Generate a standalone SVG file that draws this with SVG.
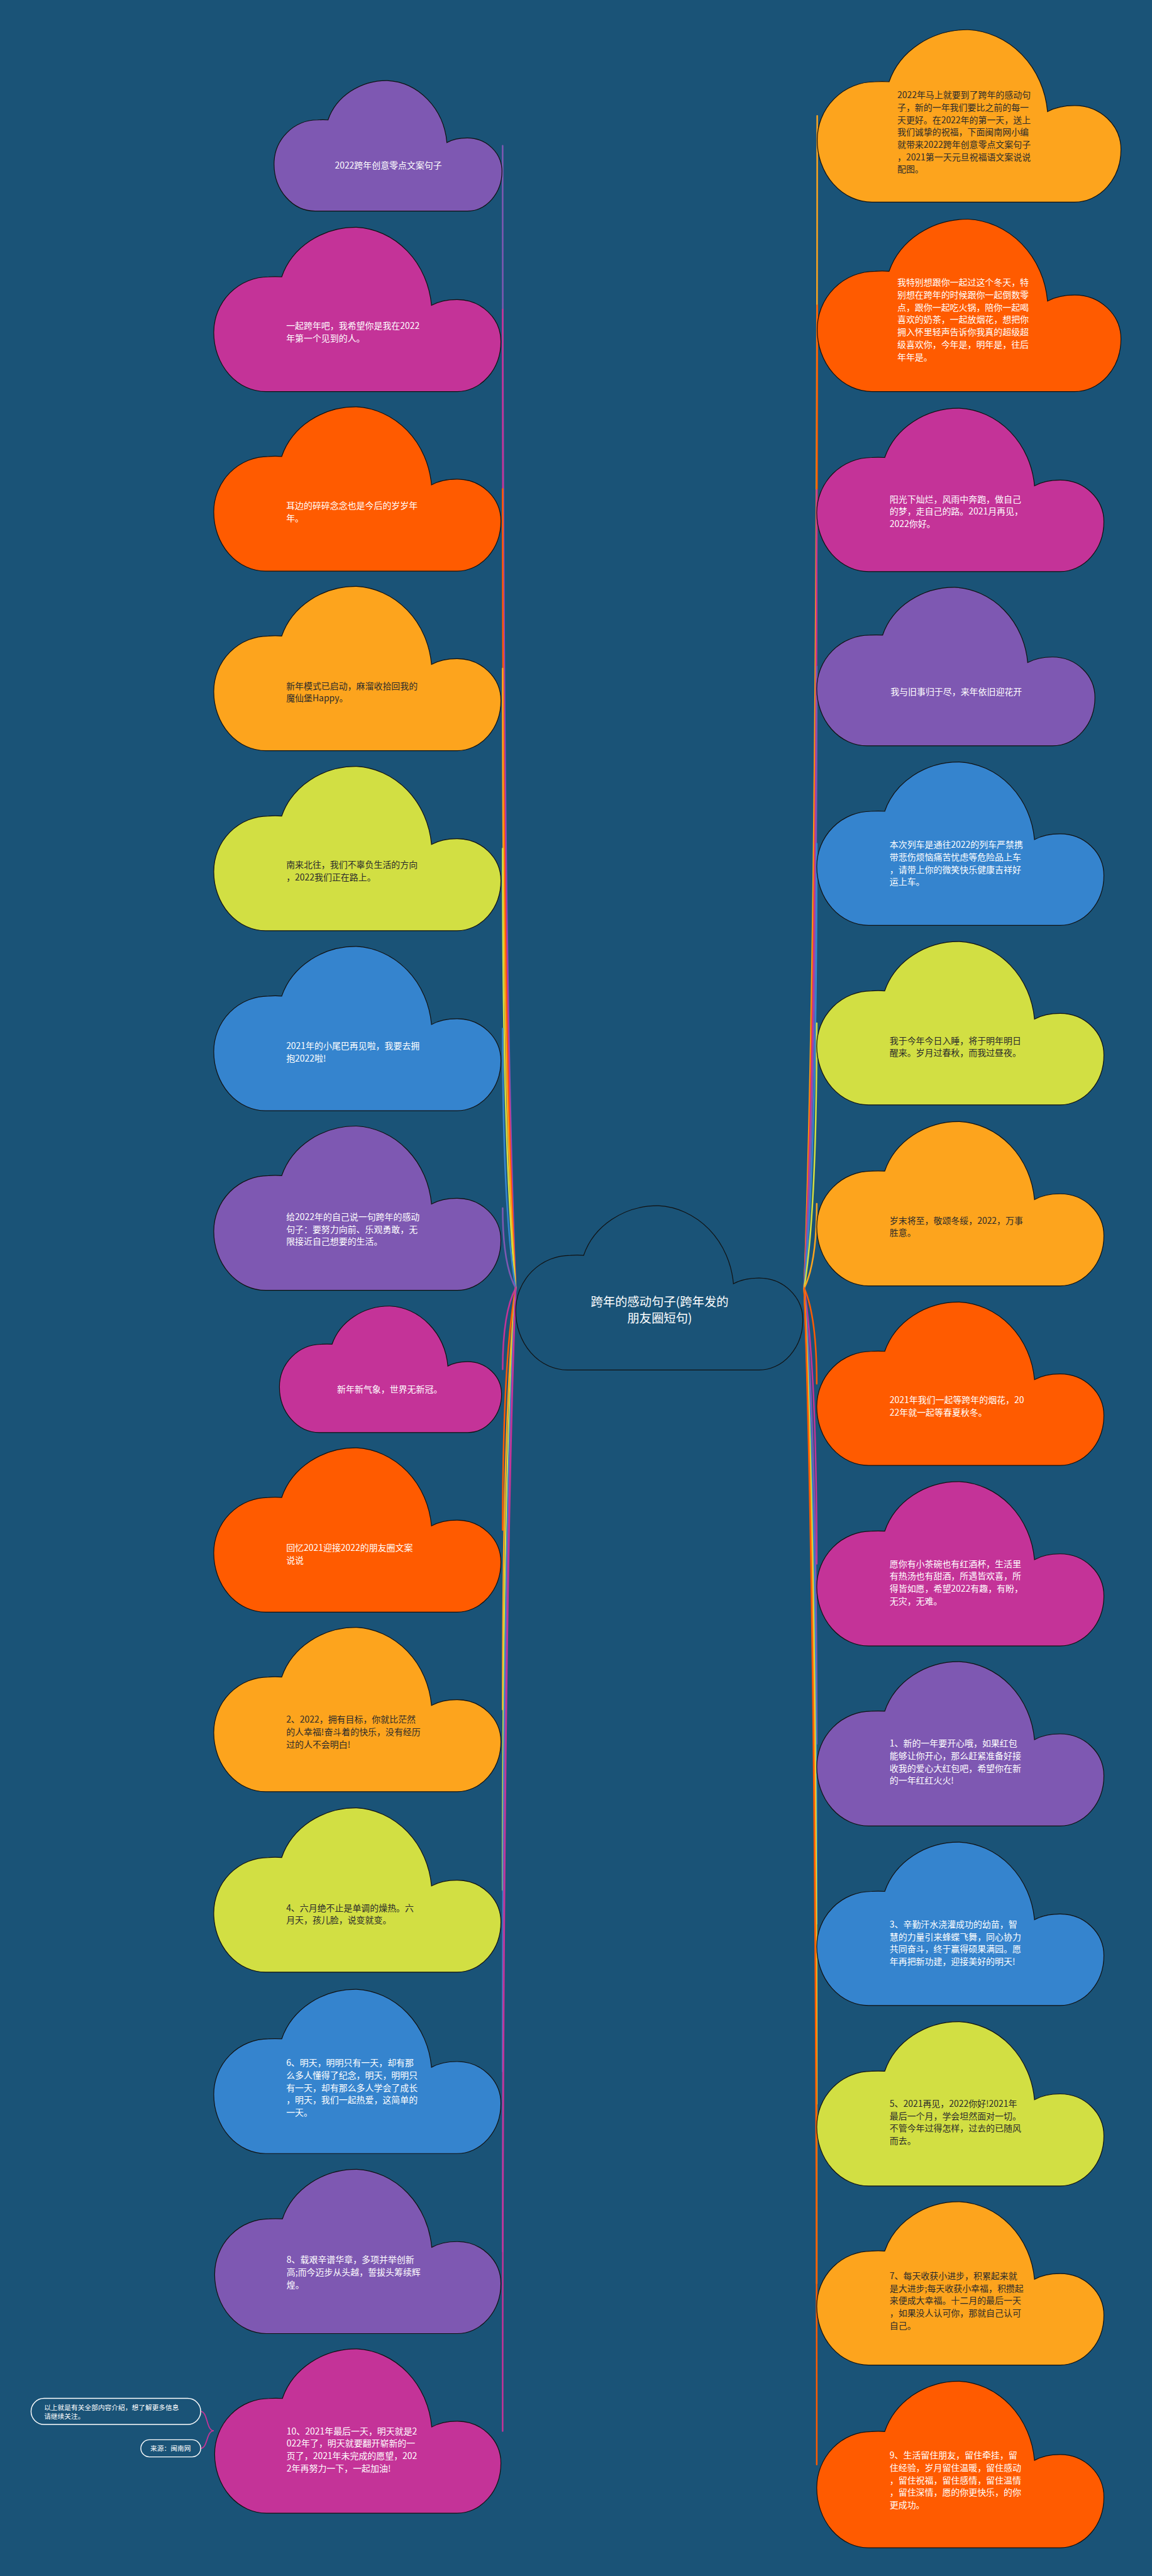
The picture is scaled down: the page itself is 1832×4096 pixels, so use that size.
<svg xmlns="http://www.w3.org/2000/svg" xmlns:xlink="http://www.w3.org/1999/xlink" width="1832" height="4096" viewBox="0 0 1832 4096">
<style>
.t{font-family:"Noto Sans CJK SC","Noto Sans",sans-serif;font-size:19.5px}
.w{fill:#ffffff}.d{fill:#2b2b2b}
.mid{text-anchor:middle}
.c{font-family:"Noto Sans CJK SC","Noto Sans",sans-serif;font-size:27px;fill:#ffffff;text-anchor:middle}
.n{font-family:"Noto Sans CJK SC","Noto Sans",sans-serif;font-size:15px;fill:#ffffff}
.pu{fill:#7E58B2}.mg{fill:#C43398}.or{fill:#FF5B00}.ye{fill:#FDA41D}.li{fill:#D2DF43}.bl{fill:#3584CE}.bg{fill:#1A5377}
.ln{fill:none;stroke-width:3.5;stroke-linecap:round}
.spu{stroke:#7E58B2}.smg{stroke:#C43398}.sor{stroke:#FF5B00}.sye{stroke:#FDA41D}.sli{stroke:#D2DF43}.sbl{stroke:#3584CE}
.box{fill:#1A5377;stroke:#ffffff;stroke-width:2}
</style>
<defs>
<path id="cloud" d="M236,302 A270,430 0 0 1 495,0 A275,525 0 0 1 756,475 C780,452 810,440 845,440 A152,255 0 0 1 997,695 A152,305 0 0 1 845,1000 L180,1000 A180,360 0 0 1 0,640 A190,338 0 0 1 190,302 C205,300 222,300 236,302 Z" stroke="#111111" stroke-width="1.2" vector-effect="non-scaling-stroke"/>
</defs>
<rect x="0" y="0" width="1832" height="4096" fill="#1A5377"/>
<g transform="scale(0.715625)">
<g id="connectors">
<path class="ln spu" d="M1146,2862 Q1117,2100.6 1117,324"/>
<path class="ln smg" d="M1146,2862 Q1117,2209.6 1117,687.5"/>
<path class="ln sor" d="M1146,2862 Q1117,2329.4 1117,1086.5"/>
<path class="ln sye" d="M1146,2862 Q1117,2449.1 1117,1485.5"/>
<path class="ln sli" d="M1146,2862 Q1117,2569.1 1117,1885.5"/>
<path class="ln sbl" d="M1146,2862 Q1117,2689.1 1117,2285.5"/>
<path class="ln spu" d="M1146,2862 Q1117,2808.8 1117,2684.5"/>
<path class="ln smg" d="M1146,2862 Q1117,2916.2 1117,3042.5"/>
<path class="ln sor" d="M1146,2862 Q1117,3023.3 1117,3399.5"/>
<path class="ln sye" d="M1146,2862 Q1117,3143 1117,3798.5"/>
<path class="ln sli" d="M1146,2862 Q1117,3263.3 1117,4199.5"/>
<path class="ln sbl" d="M1146,2862 Q1117,3384.2 1117,4602.5"/>
<path class="ln spu" d="M1146,2862 Q1117,3504.2 1117,5002.5"/>
<path class="ln smg" d="M1146,2862 Q1117,3623.9 1117,5401.5"/>
<path class="ln sye" d="M1787,2862 Q1816,2080.7 1816,257.5"/>
<path class="ln sor" d="M1787,2862 Q1816,2206.9 1816,678.5"/>
<path class="ln smg" d="M1787,2862 Q1815,2330 1815,1088.5"/>
<path class="ln spu" d="M1787,2862 Q1815,2447.7 1815,1481"/>
<path class="ln sbl" d="M1787,2862 Q1815,2565.8 1815,1874.5"/>
<path class="ln sli" d="M1787,2862 Q1815,2685.5 1815,2273.5"/>
<path class="ln sye" d="M1787,2862 Q1815,2805.8 1815,2674.5"/>
<path class="ln sor" d="M1787,2862 Q1815,2925.8 1815,3074.5"/>
<path class="ln smg" d="M1787,2862 Q1815,3045.8 1815,3474.5"/>
<path class="ln spu" d="M1787,2862 Q1815,3165.8 1815,3874.5"/>
<path class="ln sbl" d="M1787,2862 Q1815,3285.8 1815,4274.5"/>
<path class="ln sli" d="M1787,2862 Q1815,3405.8 1815,4674.5"/>
<path class="ln sye" d="M1787,2862 Q1815,3525.5 1815,5073.5"/>
<path class="ln sor" d="M1787,2862 Q1815,3646.2 1815,5476"/>
<path class="smg" fill="none" stroke-width="2.5" d="M475,5401 C458,5401 462,5358 446,5358"/>
<path class="smg" fill="none" stroke-width="2.5" d="M475,5401 C458,5401 462,5440 446,5440"/>
</g>

<g id="n-center">
<use xlink:href="#cloud" class="bg" transform="translate(1146,2679) scale(0.64,0.365)"/>
<text class="c"><tspan x="1466" y="2902">跨年的感动句子(跨年发的</tspan><tspan x="1466" y="2939">朋友圈短句)</tspan></text>
</g>

<g id="n-l1">
<use xlink:href="#cloud" class="pu" transform="translate(609,179) scale(0.508,0.29)"/>
<text class="t w mid" x="863" y="374">2022跨年创意零点文案句子</text>
</g>
<g id="n-l2">
<use xlink:href="#cloud" class="mg" transform="translate(475,505) scale(0.64,0.365)"/>
<text class="t w"><tspan x="636" y="731">一起跨年吧，我希望你是我在2022</tspan><tspan x="636" dy="27.5">年第一个见到的人。</tspan></text>
</g>
<g id="n-l3">
<use xlink:href="#cloud" class="or" transform="translate(475,904) scale(0.64,0.365)"/>
<text class="t w"><tspan x="636" y="1131">耳边的碎碎念念也是今后的岁岁年</tspan><tspan x="636" dy="27.5">年。</tspan></text>
</g>
<g id="n-l4">
<use xlink:href="#cloud" class="ye" transform="translate(475,1303) scale(0.64,0.365)"/>
<text class="t d"><tspan x="636" y="1531">新年模式已启动，麻溜收拾回我的</tspan><tspan x="636" dy="27.5">魔仙堡Happy。</tspan></text>
</g>
<g id="n-l5">
<use xlink:href="#cloud" class="li" transform="translate(475,1703) scale(0.64,0.365)"/>
<text class="t d"><tspan x="636" y="1929">南来北往，我们不辜负生活的方向</tspan><tspan x="636" dy="27.5">，2022我们正在路上。</tspan></text>
</g>
<g id="n-l6">
<use xlink:href="#cloud" class="bl" transform="translate(475,2103) scale(0.64,0.365)"/>
<text class="t w"><tspan x="636" y="2331">2021年的小尾巴再见啦，我要去拥</tspan><tspan x="636" dy="27.5">抱2022啦!</tspan></text>
</g>
<g id="n-l7">
<use xlink:href="#cloud" class="pu" transform="translate(475,2502) scale(0.64,0.365)"/>
<text class="t w"><tspan x="636" y="2711">给2022年的自己说一句跨年的感动</tspan><tspan x="636" dy="27.5">句子：要努力向前、乐观勇敢，无</tspan><tspan x="636" dy="27.5">限接近自己想要的生活。</tspan></text>
</g>
<g id="n-l8">
<use xlink:href="#cloud" class="mg" transform="translate(621,2902) scale(0.495,0.281)"/>
<text class="t w mid" x="866" y="3094">新年新气象，世界无新冠。</text>
</g>
<g id="n-l9">
<use xlink:href="#cloud" class="or" transform="translate(475,3217) scale(0.64,0.365)"/>
<text class="t w"><tspan x="636" y="3446">回忆2021迎接2022的朋友圈文案</tspan><tspan x="636" dy="27.5">说说</tspan></text>
</g>
<g id="n-l10">
<use xlink:href="#cloud" class="ye" transform="translate(475,3616) scale(0.64,0.365)"/>
<text class="t d"><tspan x="636" y="3828">2、2022，拥有目标，你就比茫然</tspan><tspan x="636" dy="27.5">的人幸福!奋斗着的快乐，没有经历</tspan><tspan x="636" dy="27.5">过的人不会明白!</tspan></text>
</g>
<g id="n-l11">
<use xlink:href="#cloud" class="li" transform="translate(475,4017) scale(0.64,0.365)"/>
<text class="t d"><tspan x="636" y="4246">4、六月绝不止是单调的燥热。六</tspan><tspan x="636" dy="27.5">月天，孩儿脸，说变就变。</tspan></text>
</g>
<g id="n-l12">
<use xlink:href="#cloud" class="bl" transform="translate(475,4420) scale(0.64,0.365)"/>
<text class="t w"><tspan x="636" y="4591">6、明天，明明只有一天，却有那</tspan><tspan x="636" dy="27.5">么多人懂得了纪念，明天，明明只</tspan><tspan x="636" dy="27.5">有一天，却有那么多人学会了成长</tspan><tspan x="636" dy="27.5">，明天，我们一起热爱，这简单的</tspan><tspan x="636" dy="27.5">一天。</tspan></text>
</g>
<g id="n-l13">
<use xlink:href="#cloud" class="pu" transform="translate(477,4820) scale(0.638,0.365)"/>
<text class="t w"><tspan x="637" y="5028">8、载艰辛谱华章，多项并举创新</tspan><tspan x="637" dy="27.5">高;而今迈步从头越，誓拔头筹续辉</tspan><tspan x="637" dy="27.5">煌。</tspan></text>
</g>
<g id="n-l14">
<use xlink:href="#cloud" class="mg" transform="translate(477,5219) scale(0.638,0.365)"/>
<text class="t w"><tspan x="637" y="5409">10、2021年最后一天，明天就是2</tspan><tspan x="637" dy="27.5">022年了，明天就要翻开崭新的一</tspan><tspan x="637" dy="27.5">页了，2021年未完成的愿望，202</tspan><tspan x="637" dy="27.5">2年再努力一下，一起加油!</tspan></text>
</g>
<g id="n-note1">
<rect class="box" x="69" y="5329" width="377" height="58" rx="29"/>
<text class="n"><tspan x="98" y="5355">以上就是有关全部内容介绍，想了解更多信息</tspan><tspan x="98" dy="20">请继续关注。</tspan></text>
</g>
<g id="n-note2">
<rect class="box" x="313" y="5421" width="133" height="38" rx="19"/>
<text class="n mid" x="379" y="5446">来源：闽南网</text>
</g>

<g id="n-r1">
<use xlink:href="#cloud" class="ye" transform="translate(1816,66) scale(0.677,0.383)"/>
<text class="t d"><tspan x="1994" y="218.5">2022年马上就要到了跨年的感动句</tspan><tspan x="1994" dy="27.5">子，新的一年我们要比之前的每一</tspan><tspan x="1994" dy="27.5">天更好。在2022年的第一天，送上</tspan><tspan x="1994" dy="27.5">我们诚挚的祝福，下面闽南网小编</tspan><tspan x="1994" dy="27.5">就带来2022跨年创意零点文案句子</tspan><tspan x="1994" dy="27.5">，2021第一天元旦祝福语文案说说</tspan><tspan x="1994" dy="27.5">配图。</tspan></text>
</g>
<g id="n-r2">
<use xlink:href="#cloud" class="or" transform="translate(1816,487) scale(0.677,0.383)"/>
<text class="t w"><tspan x="1994" y="635">我特别想跟你一起过这个冬天，特</tspan><tspan x="1994" dy="27.5">别想在跨年的时候跟你一起倒数零</tspan><tspan x="1994" dy="27.5">点，跟你一起吃火锅，陪你一起喝</tspan><tspan x="1994" dy="27.5">喜欢的奶茶，一起放烟花，想把你</tspan><tspan x="1994" dy="27.5">拥入怀里轻声告诉你我真的超级超</tspan><tspan x="1994" dy="27.5">级喜欢你，今年是，明年是，往后</tspan><tspan x="1994" dy="27.5">年年是。</tspan></text>
</g>
<g id="n-r3">
<use xlink:href="#cloud" class="mg" transform="translate(1815,907) scale(0.64,0.363)"/>
<text class="t w"><tspan x="1977" y="1116">阳光下灿烂，风雨中奔跑，做自己</tspan><tspan x="1977" dy="27.5">的梦，走自己的路。2021月再见，</tspan><tspan x="1977" dy="27.5">2022你好。</tspan></text>
</g>
<g id="n-r4">
<use xlink:href="#cloud" class="pu" transform="translate(1815,1305) scale(0.62,0.352)"/>
<text class="t w mid" x="2125" y="1544">我与旧事归于尽，来年依旧迎花开</text>
</g>
<g id="n-r5">
<use xlink:href="#cloud" class="bl" transform="translate(1815,1693) scale(0.64,0.363)"/>
<text class="t w"><tspan x="1977" y="1884">本次列车是通往2022的列车严禁携</tspan><tspan x="1977" dy="27.5">带悲伤烦恼痛苦忧虑等危险品上车</tspan><tspan x="1977" dy="27.5">，请带上你的微笑快乐健康吉祥好</tspan><tspan x="1977" dy="27.5">运上车。</tspan></text>
</g>
<g id="n-r6">
<use xlink:href="#cloud" class="li" transform="translate(1815,2092) scale(0.64,0.363)"/>
<text class="t d"><tspan x="1977" y="2319">我于今年今日入睡，将于明年明日</tspan><tspan x="1977" dy="27.5">醒来。岁月过春秋，而我过昼夜。</tspan></text>
</g>
<g id="n-r7">
<use xlink:href="#cloud" class="ye" transform="translate(1815,2492) scale(0.64,0.365)"/>
<text class="t d"><tspan x="1977" y="2719">岁末将至，敬颂冬绥，2022，万事</tspan><tspan x="1977" dy="27.5">胜意。</tspan></text>
</g>
<g id="n-r8">
<use xlink:href="#cloud" class="or" transform="translate(1815,2893) scale(0.64,0.363)"/>
<text class="t w"><tspan x="1977" y="3118">2021年我们一起等跨年的烟花，20</tspan><tspan x="1977" dy="27.5">22年就一起等春夏秋冬。</tspan></text>
</g>
<g id="n-r9">
<use xlink:href="#cloud" class="mg" transform="translate(1815,3292) scale(0.64,0.365)"/>
<text class="t w"><tspan x="1977" y="3482">愿你有小茶碗也有红酒杯，生活里</tspan><tspan x="1977" dy="27.5">有热汤也有甜酒，所遇皆欢喜，所</tspan><tspan x="1977" dy="27.5">得皆如愿，希望2022有趣，有盼，</tspan><tspan x="1977" dy="27.5">无灾，无难。</tspan></text>
</g>
<g id="n-r10">
<use xlink:href="#cloud" class="pu" transform="translate(1815,3692) scale(0.64,0.365)"/>
<text class="t w"><tspan x="1977" y="3881">1、新的一年要开心哦，如果红包</tspan><tspan x="1977" dy="27.5">能够让你开心，那么赶紧准备好接</tspan><tspan x="1977" dy="27.5">收我的爱心大红包吧，希望你在新</tspan><tspan x="1977" dy="27.5">的一年红红火火!</tspan></text>
</g>
<g id="n-r11">
<use xlink:href="#cloud" class="bl" transform="translate(1815,4093) scale(0.64,0.363)"/>
<text class="t w"><tspan x="1977" y="4283">3、辛勤汗水浇灌成功的幼苗，智</tspan><tspan x="1977" dy="27.5">慧的力量引来蜂蝶飞舞，同心协力</tspan><tspan x="1977" dy="27.5">共同奋斗，终于赢得硕果满园。愿</tspan><tspan x="1977" dy="27.5">年再把新功建，迎接美好的明天!</tspan></text>
</g>
<g id="n-r12">
<use xlink:href="#cloud" class="li" transform="translate(1815,4492) scale(0.64,0.365)"/>
<text class="t d"><tspan x="1977" y="4681">5、2021再见，2022你好!2021年</tspan><tspan x="1977" dy="27.5">最后一个月，学会坦然面对一切。</tspan><tspan x="1977" dy="27.5">不管今年过得怎样，过去的已随风</tspan><tspan x="1977" dy="27.5">而去。</tspan></text>
</g>
<g id="n-r13">
<use xlink:href="#cloud" class="ye" transform="translate(1815,4892) scale(0.64,0.363)"/>
<text class="t d"><tspan x="1977" y="5064">7、每天收获小进步，积累起来就</tspan><tspan x="1977" dy="27.5">是大进步;每天收获小幸福，积攒起</tspan><tspan x="1977" dy="27.5">来便成大幸福。十二月的最后一天</tspan><tspan x="1977" dy="27.5">，如果没人认可你，那就自己认可</tspan><tspan x="1977" dy="27.5">自己。</tspan></text>
</g>
<g id="n-r14">
<use xlink:href="#cloud" class="or" transform="translate(1815,5291) scale(0.64,0.37)"/>
<text class="t w"><tspan x="1977" y="5463">9、生活留住朋友，留住牵挂，留</tspan><tspan x="1977" dy="27.5">住经验，岁月留住温暖，留住感动</tspan><tspan x="1977" dy="27.5">，留住祝福，留住感情，留住温情</tspan><tspan x="1977" dy="27.5">，留住深情，愿的你更快乐，的你</tspan><tspan x="1977" dy="27.5">更成功。</tspan></text>
</g>
</g>
</svg>
